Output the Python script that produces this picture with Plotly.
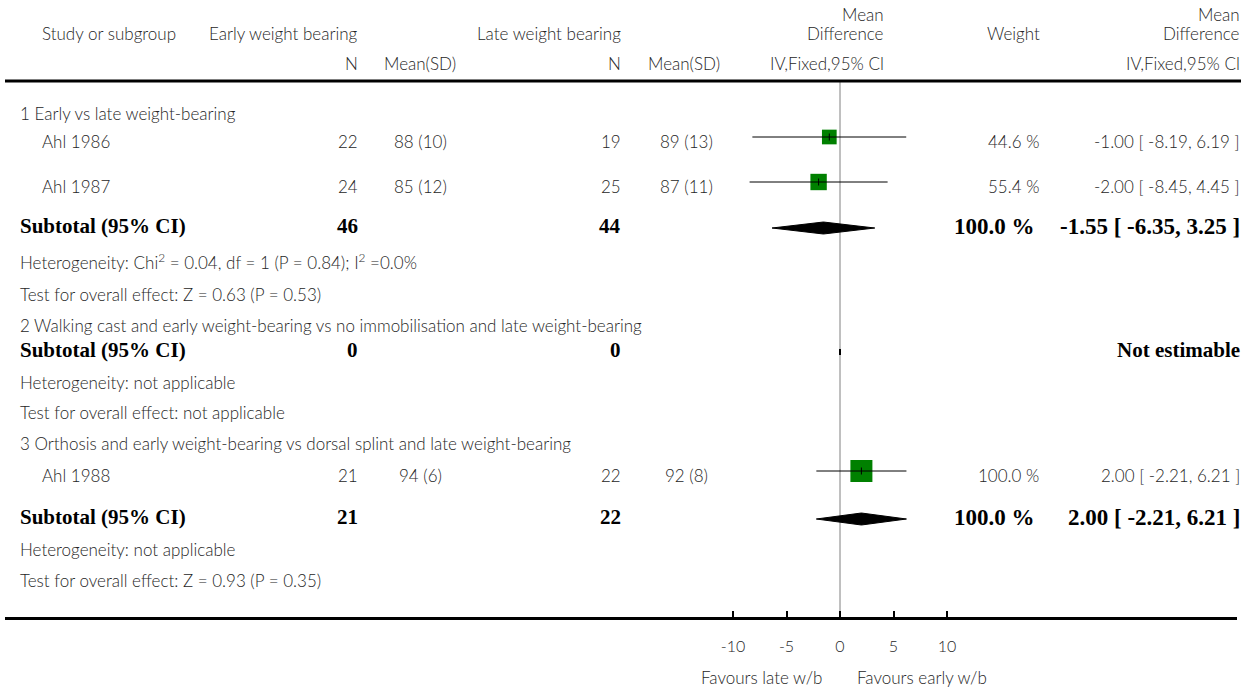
import plotly.graph_objects as go

# ---- data -------------------------------------------------------------
subgroup_titles = [
    "1 Early vs late weight-bearing",
    "2 Walking cast and early weight-bearing vs no immobilisation and late weight-bearing",
    "3 Orthosis and early weight-bearing vs dorsal splint and late weight-bearing",
]
study_names = ["Ahl 1986", "Ahl 1987", "Ahl 1988"]
early_n = [22, 24, 21]
early_mean_sd = ["88 (10)", "85 (12)", "94 (6)"]
late_n = [19, 25, 22]
late_mean_sd = ["89 (13)", "87 (11)", "92 (8)"]
weights = [44.6, 55.4, 100.0]
md = [-1.00, -2.00, 2.00]
md_lo = [-8.19, -8.45, -2.21]
md_hi = [6.19, 4.45, 6.21]

subtotal_early_n = [46, 0, 21]
subtotal_late_n = [44, 0, 22]
subtotal_weight = [100.0, None, 100.0]
subtotal_md = [-1.55, None, 2.00]
subtotal_lo = [-6.35, None, -2.21]
subtotal_hi = [3.25, None, 6.21]
heterogeneity = [
    "Heterogeneity: Chi<sup>2</sup> = 0.04, df = 1 (P = 0.84); I<sup>2</sup> =0.0%",
    "Heterogeneity: not applicable",
    "Heterogeneity: not applicable",
]
overall_test = [
    "Test for overall effect: Z = 0.63 (P = 0.53)",
    "Test for overall effect: not applicable",
    "Test for overall effect: Z = 0.93 (P = 0.35)",
]
axis_ticks = [-10, -5, 0, 5, 10]
favours_left = "Favours late w/b"
favours_right = "Favours early w/b"

# ---- page geometry (pixels) -------------------------------------------
W, H = 1256, 689
ZERO_PX, PX_PER_UNIT = 840, 10.7
AX_LEFT, AX_RIGHT = 5, 1237
HEADER_LINE_Y = 81
AXIS_LINE_Y = 618

# row positions for each subgroup block
title_y = [113, 325, 443]
study_y = [137, 182, 471]
subtotal_y = [228, 352, 519]
het_y = [261, 382, 549]
test_y = [294, 412, 580]

# column anchors
COL_STUDY = 40
COL_INDENT = 18
COL_EARLY_N = 360
COL_EARLY_MSD = 420
COL_LATE_N = 623
COL_LATE_MSD = 686
COL_MD_HDR = 886
COL_WEIGHT = 1041
COL_WEIGHT_HDR = 1013
COL_CI = 1242

REG_FONT = dict(family="Lato", size=17, color="#262626", weight=300)
BOLD_FONT = dict(family="Liberation Serif", size=21, color="#000000", weight="bold")
BOLD_NUM_FONT = dict(family="Liberation Serif", size=23, color="#000000", weight="bold")
STUDY_DY = 4
SUB_DY = -2

fig = go.Figure()
ann = []


def txt(x, y, s, anchor="left", font=REG_FONT):
    ann.append(dict(x=x, y=y, xref="x", yref="y", text=s, showarrow=False,
                    xanchor=anchor, yanchor="middle", font=font))


# header
txt(COL_STUDY, 33, "Study or subgroup")
txt(COL_EARLY_N, 33, "Early weight bearing", "right")
txt(COL_LATE_N, 33, "Late weight bearing", "right")
txt(COL_MD_HDR, 14, "Mean", "right")
txt(COL_MD_HDR, 33, "Difference", "right")
txt(COL_WEIGHT_HDR, 33, "Weight", "center")
txt(COL_CI, 14, "Mean", "right")
txt(COL_CI, 33, "Difference", "right")
txt(COL_EARLY_N, 63, "N", "right")
txt(COL_EARLY_MSD, 63, "Mean(SD)", "center")
txt(COL_LATE_N, 63, "N", "right")
txt(COL_LATE_MSD - 2, 63, "Mean(SD)", "center")
txt(COL_MD_HDR, 63, "IV,Fixed,95% CI", "right")
txt(COL_CI, 63, "IV,Fixed,95% CI", "right")

# subgroup text
for g, title in enumerate(subgroup_titles):
    txt(COL_INDENT, title_y[g], title)
    sy = subtotal_y[g] + SUB_DY
    txt(COL_INDENT, sy, "Subtotal (95% CI)", font=BOLD_FONT)
    txt(COL_EARLY_N, sy, str(subtotal_early_n[g]), "right", BOLD_FONT)
    txt(COL_LATE_N, sy, str(subtotal_late_n[g]), "right", BOLD_FONT)
    if subtotal_md[g] is None:
        txt(COL_CI, sy, "Not estimable", "right", BOLD_FONT)
    else:
        txt(COL_WEIGHT - 4, sy, f"{subtotal_weight[g]:.1f} %", "right", BOLD_NUM_FONT)
        txt(COL_CI, sy, f"{subtotal_md[g]:.2f} [ {subtotal_lo[g]:.2f}, {subtotal_hi[g]:.2f} ]",
            "right", BOLD_NUM_FONT)
    txt(COL_INDENT, het_y[g], heterogeneity[g])
    txt(COL_INDENT, test_y[g], overall_test[g])

# study rows
for i, name in enumerate(study_names):
    y = study_y[i] + STUDY_DY
    txt(COL_STUDY, y, name)
    txt(COL_EARLY_N, y, str(early_n[i]), "right")
    txt(COL_EARLY_MSD, y, early_mean_sd[i], "center")
    txt(COL_LATE_N, y, str(late_n[i]), "right")
    txt(COL_LATE_MSD, y, late_mean_sd[i], "center")
    txt(COL_WEIGHT, y, f"{weights[i]:.1f} %", "right")
    txt(COL_CI, y, f"{md[i]:.2f} [ {md_lo[i]:.2f}, {md_hi[i]:.2f} ]", "right")

# favours labels under the axis
txt(761, 677, favours_left, "center")
txt(922, 677, favours_right, "center")

# ---- forest marks ------------------------------------------------------
# weight squares (area proportional to weight)
fig.add_trace(go.Scatter(
    x=md, y=study_y, xaxis="x2", yaxis="y", mode="markers",
    marker=dict(symbol="square", color="#008000", opacity=1,
                size=[22 * (w / 100) ** 0.5 for w in weights], line=dict(width=0)),
    opacity=1, hoverinfo="skip", showlegend=False))

# confidence interval lines
for i in range(len(study_names)):
    fig.add_trace(go.Scatter(
        x=[md_lo[i], md_hi[i]], y=[study_y[i], study_y[i]], xaxis="x2", yaxis="y",
        mode="lines", line=dict(color="#000000", width=1),
        hoverinfo="skip", showlegend=False))

# point-estimate ticks
fig.add_trace(go.Scatter(
    x=md, y=study_y, xaxis="x2", yaxis="y", mode="markers",
    marker=dict(symbol="line-ns", size=5, line=dict(color="#000000", width=1)),
    hoverinfo="skip", showlegend=False))

# pooled diamonds
DH = 6
for g in range(len(subgroup_titles)):
    y = subtotal_y[g]
    if subtotal_md[g] is None:
        continue
    fig.add_trace(go.Scatter(
        x=[subtotal_lo[g], subtotal_md[g], subtotal_hi[g], subtotal_md[g], subtotal_lo[g]],
        y=[y, y - DH, y, y + DH, y], xaxis="x2", yaxis="y",
        mode="lines", fill="toself", fillcolor="#000000",
        line=dict(color="#000000", width=1),
        hoverinfo="skip", showlegend=False))

shapes = [
    # line of no effect
    dict(type="line", xref="x2", yref="y", x0=0, x1=0,
         y0=HEADER_LINE_Y, y1=AXIS_LINE_Y, line=dict(color="#808080", width=1), layer="below"),
    # header rule
    dict(type="line", xref="x", yref="y", x0=5, x1=1241,
         y0=HEADER_LINE_Y, y1=HEADER_LINE_Y, line=dict(color="#000000", width=3)),
]
# subgroup with no estimable effect: short mark on the no-effect line
for g in range(len(subgroup_titles)):
    if subtotal_md[g] is None:
        shapes.append(dict(type="line", xref="x2", yref="y", x0=0, x1=0,
                           y0=subtotal_y[g] - 3, y1=subtotal_y[g] + 3,
                           line=dict(color="#000000", width=2)))

r0 = -(ZERO_PX - AX_LEFT) / PX_PER_UNIT
r1 = (AX_RIGHT - ZERO_PX) / PX_PER_UNIT

fig.update_layout(
    width=W, height=H, margin=dict(l=0, r=0, t=0, b=0),
    paper_bgcolor="white", plot_bgcolor="white",
    xaxis=dict(range=[0, W], domain=[0, 1], visible=False, fixedrange=True),
    xaxis2=dict(range=[r0, r1], domain=[AX_LEFT / W, AX_RIGHT / W],
                anchor="free", position=(H - AXIS_LINE_Y) / H,
                showline=True, linecolor="#000000", linewidth=3,
                showgrid=False, zeroline=False,
                ticks="inside", ticklen=6, tickwidth=2, tickcolor="#000000",
                tickvals=axis_ticks, ticktext=[str(t) for t in axis_ticks],
                ticklabelstandoff=13,
                tickfont=dict(family="Lato", size=16, color="#262626", weight=300),
                fixedrange=True),
    yaxis=dict(range=[H, 0], domain=[0, 1], visible=False, fixedrange=True),
    annotations=ann, shapes=shapes, showlegend=False,
)

fig.write_html("out.html")
